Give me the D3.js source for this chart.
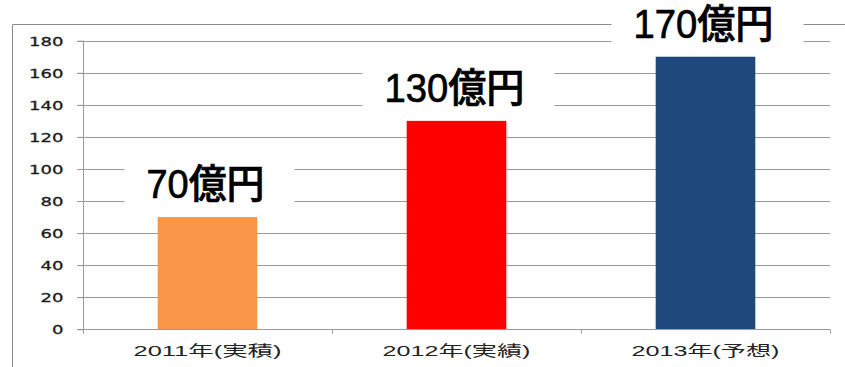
<!DOCTYPE html>
<html><head><meta charset="utf-8">
<script src="https://cdn.jsdelivr.net/npm/d3@7"></script>
<style>html,body{margin:0;padding:0;background:#fff;}svg{display:block;}</style>
</head><body>
<script>
const categories = ["2011年(実積)", "2012年(実績)", "2013年(予想)"];
const values = [70, 130, 170];
const valueLabels = ["70億円", "130億円", "170億円"];
const barColors = ["#F79646", "#FF0000", "#1F497D"];
const yTicks = [0, 20, 40, 60, 80, 100, 120, 140, 160, 180];

const W = 845, H = 367;
const svg = d3.select("body").append("svg").attr("width", W).attr("height", H);

const x = d3.scaleBand().domain(categories).range([83, 830]).paddingInner(0.6).paddingOuter(0.3);
const y = d3.scaleLinear().domain([0, 180]).range([329.3, 40.7]);

const gray = "#9a9a9a";

// gridlines
svg.append("g").selectAll("line").data(yTicks.filter(d => d > 0)).join("line")
  .attr("x1", 77).attr("x2", 830)
  .attr("y1", d => Math.round(y(d)) + 0.5).attr("y2", d => Math.round(y(d)) + 0.5)
  .attr("stroke", gray).attr("stroke-width", 1);

// outer border (top & left)
svg.append("line").attr("x1", 12.5).attr("x2", W).attr("y1", 24.5).attr("y2", 24.5).attr("stroke", "#8c8c8c");
svg.append("line").attr("x1", 12.5).attr("x2", 12.5).attr("y1", 24.5).attr("y2", H).attr("stroke", "#8c8c8c");

// bars
svg.append("g").selectAll("rect").data(values).join("rect")
  .attr("x", (d, i) => x(categories[i]))
  .attr("width", x.bandwidth())
  .attr("y", d => y(d))
  .attr("height", d => y(0) - y(d))
  .attr("fill", (d, i) => barColors[i]);

// y axis
const yAxis = d3.axisLeft(y).tickValues(yTicks).tickSize(6).tickFormat(d3.format("d"));
const gy = svg.append("g").attr("transform", "translate(83.5,0)").call(yAxis);
gy.select(".domain").attr("stroke", gray).attr("d", `M0,${y(180)}V${y(0) + 4}`);
gy.selectAll(".tick line").attr("stroke", gray);
gy.selectAll(".tick text")
  .attr("x", -20).attr("dy", "0.35em")
  .attr("fill", "#1a1a1a")
  .attr("stroke", "#1a1a1a").attr("stroke-width", 0.3)
  .style("font-family", "'DejaVu Sans', Verdana, sans-serif")
  .style("font-size", "13px")
  .attr("textLength", d => String(d).length * 11.5)
  .attr("lengthAdjust", "spacingAndGlyphs");

// x axis
const xAxis = d3.axisBottom(x).tickSize(0).tickPadding(12);
const gx = svg.append("g").attr("transform", `translate(0,${Math.round(y(0)) + 0.5})`).call(xAxis);
gx.select(".domain").attr("stroke", gray).attr("d", "M77,0H830");
const bounds = [0, 1, 2, 3].map(i => 83 + i * x.step());
gx.selectAll(".bnd").data(bounds).join("line").attr("class", "bnd")
  .attr("x1", d => Math.round(d) + 0.5).attr("x2", d => Math.round(d) + 0.5)
  .attr("y1", 0).attr("y2", 4).attr("stroke", gray);
gx.selectAll(".tick text")
  .attr("fill", "#222")
  .attr("y", 0).attr("dy", 26)
  .style("font-family", "'Liberation Sans', 'Noto Sans CJK JP', sans-serif")
  .style("font-size", "15px")
  .attr("textLength", 148)
  .attr("lengthAdjust", "spacingAndGlyphs");

// value labels with white boxes
const lg = svg.append("g");
values.forEach((v, i) => {
  const cx = x(categories[i]) + x.bandwidth() / 2 - 2;
  const base = y(v) - 19;
  const g = lg.append("g");
  const rect = g.append("rect").attr("fill", "#fff");
  const t = g.append("text")
    .attr("x", cx).attr("y", base)
    .attr("text-anchor", "middle")
    .style("font-family", "'Liberation Sans', 'Noto Sans CJK JP', sans-serif")
    .style("font-size", "40px")
    .style("font-weight", "500")
    .attr("fill", "#000")
    .attr("stroke", "#000").attr("stroke-width", 0.7)
    .text(valueLabels[i]);
  const tl = valueLabels[i].length === 4 ? 118 : 140;
  t.attr("textLength", tl).attr("lengthAdjust", "spacingAndGlyphs");
  rect.attr("x", cx - tl / 2 - 22).attr("width", tl + 52)
      .attr("y", base - 45).attr("height", 62);
});
</script>
</body></html>
